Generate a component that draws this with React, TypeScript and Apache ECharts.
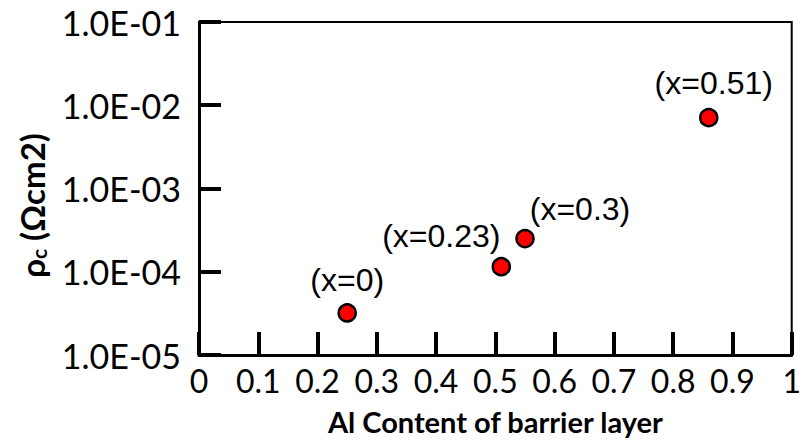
import React, { useEffect, useRef } from "react";
import * as echarts from "echarts";

const alContent = [0.25, 0.51, 0.55, 0.86];
const rhoC = [3.2e-5, 1.15e-4, 2.5e-4, 7.1e-3];
const pointLabels = ["(x=0)", "(x=0.23)", "(x=0.3)", "(x=0.51)"];
const xTickLabels = ["0", "0.1", "0.2", "0.3", "0.4", "0.5", "0.6", "0.7", "0.8", "0.9", "1"];
const yTickLabels = ["1.0E-05", "1.0E-04", "1.0E-03", "1.0E-02", "1.0E-01"];

const labelOffsets = [
  [0, -33],
  [-60, -31],
  [55, -30],
  [5, -35],
];

export default function App() {
  const ref = useRef<HTMLDivElement>(null);
  useEffect(() => {
    document.body.style.margin = "0";
    const chart = echarts.init(ref.current!, null, { renderer: "svg" });
    const data = alContent.map((x, i) => ({
      value: [x, rhoC[i]],
      label: { formatter: pointLabels[i], offset: labelOffsets[i] },
    }));
    chart.setOption({
      animation: false,
      backgroundColor: "#ffffff",
      grid: {
        left: 199,
        right: 10,
        top: 22,
        bottom: 93,
        show: true,
        borderColor: "#000",
        borderWidth: 2,
      },
      xAxis: {
        type: "value",
        min: 0,
        max: 1,
        interval: 0.1,
        name: "Al Content of barrier layer",
        nameLocation: "middle",
        nameGap: 52,
        nameTextStyle: { fontFamily: "Lato", fontWeight: "bold", fontSize: 29, color: "#000" },
        axisLine: { lineStyle: { color: "#000", width: 3 } },
        axisTick: { inside: true, length: 23, lineStyle: { color: "#000", width: 4 } },
        axisLabel: {
          fontFamily: "Lato",
          fontSize: 32,
          color: "#000",
          margin: 9,
          formatter: (v: number) => xTickLabels[Math.round(v * 10)],
        },
        splitLine: { show: false },
      },
      yAxis: {
        type: "log",
        logBase: 10,
        min: 1e-5,
        max: 1e-1,
        name: "{b|ρ}{s|c}{b| (Ωcm2)}",
        nameLocation: "middle",
        nameGap: 150,
        nameRotate: 90,
        nameTextStyle: {
          padding: [0, 34, 0, 0],
          rich: {
            b: { fontFamily: "Lato", fontWeight: "bold", fontSize: 33, color: "#000" },
            s: { fontFamily: "Lato", fontWeight: "bold", fontSize: 21, color: "#000", padding: [14, 0, 0, 0] },
          },
        },
        axisLine: { lineStyle: { color: "#000", width: 3 } },
        axisTick: { inside: true, length: 22, lineStyle: { color: "#000", width: 4 } },
        axisLabel: {
          fontFamily: "Lato",
          fontSize: 34,
          color: "#000",
          margin: 18,
          formatter: (v: number) => yTickLabels[Math.round(Math.log10(v)) + 5],
        },
        splitLine: { show: false },
      },
      series: [
        {
          type: "scatter",
          data,
          symbol: "circle",
          symbolSize: 17,
          itemStyle: { color: "#ff0000", borderColor: "#000", borderWidth: 2.5, opacity: 1 },
          label: {
            show: true,
            position: "inside",
            align: "center",
            verticalAlign: "middle",
            fontFamily: "'Liberation Sans', Arial, sans-serif",
            fontSize: 32,
            color: "#000",
            opacity: 1,
            textBorderWidth: 0,
          },
        },
      ],
    });
    return () => chart.dispose();
  }, []);
  return <div ref={ref} style={{ width: 804, height: 448 }} />;
}
